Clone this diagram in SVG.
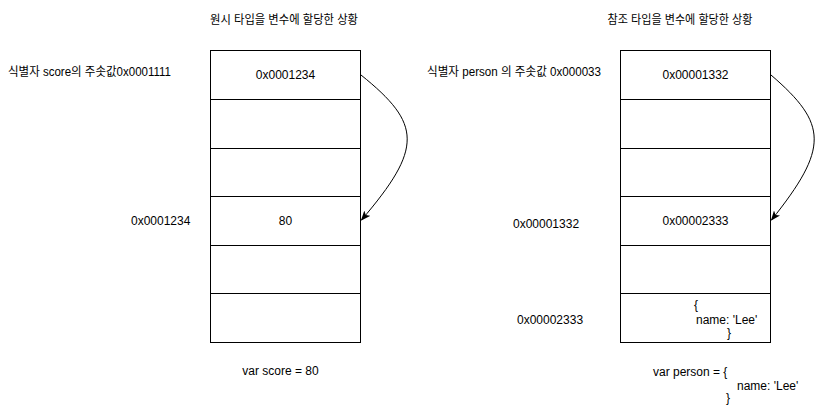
<svg xmlns="http://www.w3.org/2000/svg" width="818" height="411" viewBox="0 0 818 411">
<style>
.cell{fill:#ffffff;stroke:#000000;stroke-width:1}
.t{font-family:"Liberation Sans","Noto Sans CJK KR",Arial,sans-serif;font-size:12px;fill:#000000}
.c{text-anchor:middle}
.k{font-family:"Liberation Sans","Noto Sans CJK KR",sans-serif}
.edge{fill:none;stroke:#000000;stroke-width:1}
</style>
<defs>
<marker id="arrow" viewBox="0 0 10 8" refX="9" refY="4" markerWidth="10" markerHeight="8" markerUnits="userSpaceOnUse" orient="auto">
<path d="M0,0 L10,4 L0,8 L2.5,4 Z" fill="#000000"/>
</marker>
</defs>
<rect width="818" height="411" fill="#ffffff"/>

<g id="title-left"><text class="t c k" x="284" y="24" textLength="148" lengthAdjust="spacingAndGlyphs">원시 타입을 변수에 할당한 상황</text></g>
<g id="title-right"><text class="t c k" x="680" y="24" textLength="145" lengthAdjust="spacingAndGlyphs">참조 타입을 변수에 할당한 상황</text></g>

<g id="label-score"><text class="t k" x="8" y="76" textLength="163" lengthAdjust="spacingAndGlyphs">식별자 score의 주솟값0x0001111</text></g>
<g id="label-person"><text class="t k" x="427" y="76" textLength="174" lengthAdjust="spacingAndGlyphs">식별자 person 의 주솟값 0x000033</text></g>

<g id="stack-left">
<rect class="cell" x="210.5" y="50.5" width="150" height="49"/>
<rect class="cell" x="210.5" y="99.5" width="150" height="49"/>
<rect class="cell" x="210.5" y="148.5" width="150" height="48"/>
<rect class="cell" x="210.5" y="196.5" width="150" height="49"/>
<rect class="cell" x="210.5" y="245.5" width="150" height="48"/>
<rect class="cell" x="210.5" y="293.5" width="150" height="49"/>
<text class="t c" x="285.5" y="79">0x0001234</text>
<text class="t c" x="285.5" y="225">80</text>
</g>

<g id="stack-right">
<rect class="cell" x="620.5" y="50.5" width="150" height="49"/>
<rect class="cell" x="620.5" y="99.5" width="150" height="49"/>
<rect class="cell" x="620.5" y="148.5" width="150" height="48"/>
<rect class="cell" x="620.5" y="196.5" width="150" height="49"/>
<rect class="cell" x="620.5" y="245.5" width="150" height="48"/>
<rect class="cell" x="620.5" y="293.5" width="150" height="49"/>
<text class="t c" x="695.5" y="79">0x00001332</text>
<text class="t c" x="695.5" y="225">0x00002333</text>
<text class="t" x="694" y="309">{</text>
<text class="t" x="696" y="324">name: 'Lee'</text>
<text class="t" x="727" y="337">}</text>
</g>

<g id="addr-left"><text class="t" x="131" y="225">0x0001234</text></g>
<g id="addr-right-1"><text class="t" x="513" y="228">0x00001332</text></g>
<g id="addr-right-2"><text class="t" x="517" y="324">0x00002333</text></g>

<g id="code-score"><text class="t c" x="280.5" y="375">var score = 80</text></g>
<g id="code-person">
<text class="t" x="653" y="376">var person = {</text>
<text class="t" x="737" y="390">name: 'Lee'</text>
<text class="t" x="726" y="402">}</text>
</g>

<g id="connectors">
<path class="edge" d="M361,75 C422,124 423,148 361.5,220" marker-end="url(#arrow)"/>
<path class="edge" d="M771,75 C828,124 829,148 771.5,220" marker-end="url(#arrow)"/>
</g>
</svg>
